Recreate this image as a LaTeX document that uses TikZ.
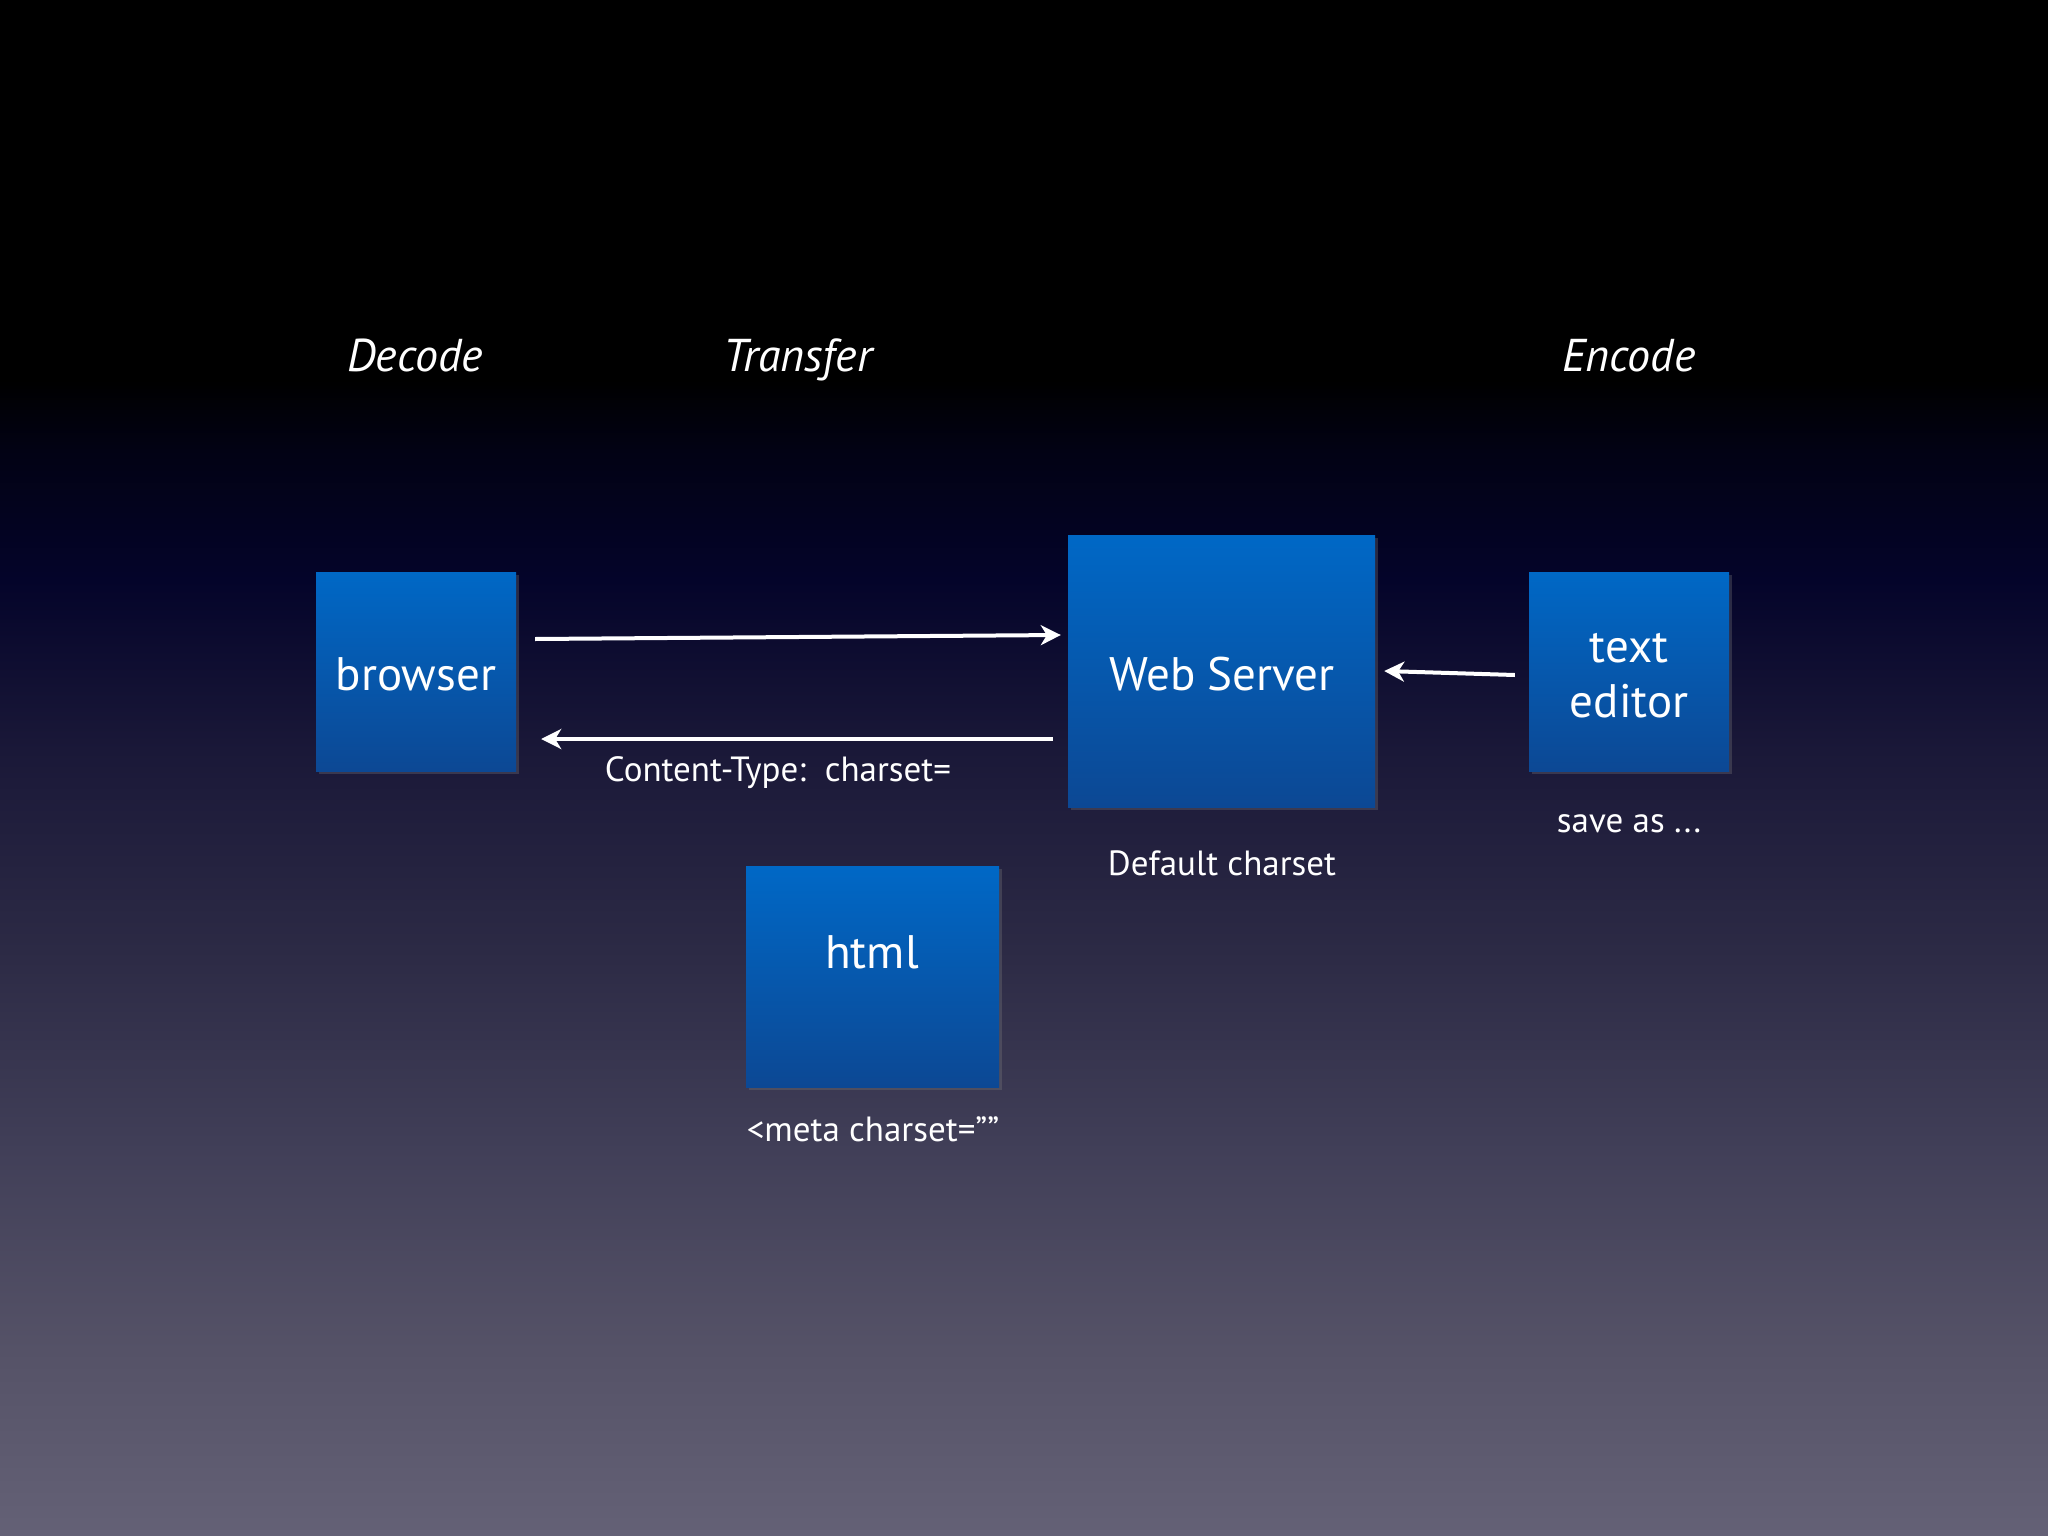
\documentclass[tikz,border=0pt]{standalone}
\usepackage{fontspec}
\setmainfont{PT Sans}
\usetikzlibrary{arrows.meta,shadows}
\definecolor{boxtop}{RGB}{0,104,198}
\definecolor{boxbot}{RGB}{12,72,148}
\definecolor{bg0}{RGB}{100,97,118}
\definecolor{bg1}{RGB}{85,82,103}
\definecolor{bg2}{RGB}{65,63,88}
\definecolor{bg3}{RGB}{44,42,69}
\definecolor{bg4}{RGB}{26,24,56}
\definecolor{bg5}{RGB}{4,4,42}
\definecolor{bg6}{RGB}{2,2,20}
\pgfdeclareverticalshading{slidebg}{100bp}{%
  color(0bp)=(bg0); color(25bp)=(bg0); color(31.05bp)=(bg1); color(37.57bp)=(bg2);
  color(44.08bp)=(bg3); color(50.59bp)=(bg4); color(56.12bp)=(bg5);
  color(60.35bp)=(bg6); color(62.63bp)=(black); color(100bp)=(black)}
\tikzset{
  bluebox/.style={rectangle, inner sep=0, top color=boxtop, bottom color=boxbot,
    drop shadow={opacity=0.3, shadow xshift=3pt, shadow yshift=-3pt}},
  biglbl/.style={text=white, inner sep=0, anchor=base, font=\fontsize{47}{56}\selectfont},
  headlbl/.style={text=white, inner sep=0, anchor=base, font=\fontsize{46}{55}\selectfont\itshape},
  smalllbl/.style={text=white, inner sep=0, anchor=base, font=\fontsize{35}{42}\selectfont},
  arr/.style={draw=white, line width=4pt, -{Stealth[length=20pt,width=20pt,inset=6pt]}}
}
\begin{document}
\begin{tikzpicture}[x=1pt,y=-1pt]
\useasboundingbox (0,0) rectangle (2048,1536);
\shade[shading=slidebg] (0,0) rectangle (2048,1536);
% headers
\node[headlbl] (decode) at (415,371) {Decode};
\node[headlbl] (transfer) at (798,371) {Transfer};
\node[headlbl] (encode) at (1629,371) {Encode};
% boxes
\node[bluebox, minimum width=200pt, minimum height=199pt] (browser) at (416,671.5) {};
\node[bluebox, minimum width=307pt, minimum height=272pt] (ws) at (1221.5,671) {};
\node[bluebox, minimum width=200pt, minimum height=199pt] (editor) at (1629,671.5) {};
\node[bluebox, minimum width=253pt, minimum height=221pt] (html) at (872.5,976.5) {};
% box labels
\node[biglbl] (browsertxt) at (416,690) {browser};
\node[biglbl] (wstxt) at (1222,690) {Web Server};
\node[biglbl] (edtxt1) at (1629,662) {text};
\node[biglbl] (edtxt2) at (1629,717) {editor};
\node[biglbl] (htmltxt) at (872,968) {html};
% small labels
\node[smalllbl] (ctype) at (778,781) {Content-Type:\ \ charset=};
\node[smalllbl] (saveas) at (1629,832) {save as ...};
\node[smalllbl] (defcs) at (1222,875) {Default charset};
\node[smalllbl] (meta) at (873,1141) {<meta charset=””};
% arrows
\draw[arr] ([shift={(19,-32.5)}]browser.east) -- ([shift={(-7,-36)}]ws.west);
\draw[arr] ([shift={(-15,68)}]ws.west) -- ([shift={(25,67.5)}]browser.east);
\draw[arr] ([shift={(-14,3.5)}]editor.west) -- ([shift={(9,0)}]ws.east);
\end{tikzpicture}
\end{document}
